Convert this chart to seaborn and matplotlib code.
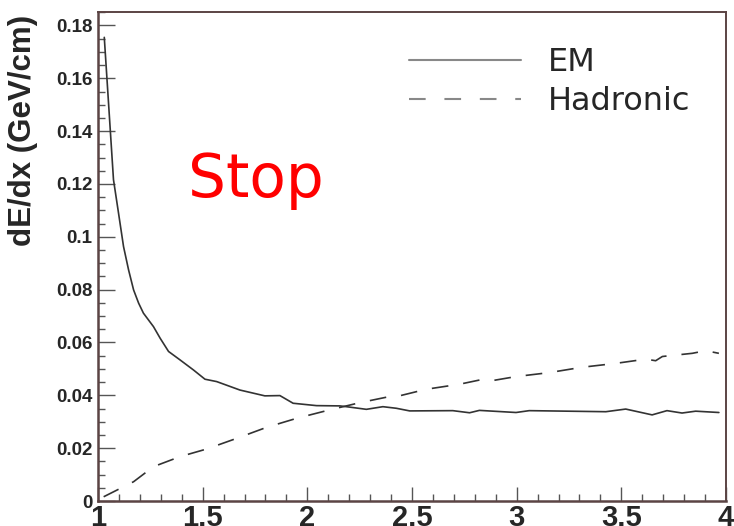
import matplotlib
matplotlib.use("Agg")
import matplotlib.pyplot as plt
import seaborn as sns
import numpy as np
from matplotlib.ticker import FixedLocator, MultipleLocator

sns.set_style("white")
plt.rcParams['font.family'] = ['DejaVu Sans']

# ---- data ----
em_x = [1.03, 1.074, 1.098, 1.122, 1.146, 1.170, 1.194, 1.217, 1.265, 1.297, 1.337,
        1.392, 1.456, 1.511, 1.567, 1.678, 1.797, 1.869, 1.932, 2.044, 2.155, 2.187,
        2.282, 2.361, 2.425, 2.489, 2.695, 2.775, 2.822, 2.997, 3.06, 3.426, 3.521,
        3.647, 3.718, 3.79, 3.855, 3.966]
em_y = [0.1755, 0.1216, 0.109, 0.0963, 0.0875, 0.0799, 0.0749, 0.0711, 0.066, 0.0616, 0.0566,
        0.0534, 0.0496, 0.0461, 0.0452, 0.042, 0.0398, 0.0399, 0.037, 0.0361, 0.036, 0.0357,
        0.0347, 0.0357, 0.0351, 0.0341, 0.0342, 0.0334, 0.0343, 0.0335, 0.0342, 0.0338, 0.0348,
        0.0326, 0.0342, 0.0333, 0.034, 0.0335]

had_x = [1.027, 1.17, 1.265, 1.392, 1.52, 1.662, 1.806, 1.949, 2.107, 2.25, 2.409, 2.44,
         2.568, 2.727, 2.823, 2.886, 2.997, 3.156, 3.31, 3.474, 3.617, 3.664, 3.696,
         3.839, 3.903, 3.966]
had_y = [0.0016, 0.0073, 0.013, 0.0168, 0.0197, 0.0237, 0.0279, 0.0313, 0.0345, 0.0372, 0.0398, 0.0398,
         0.0423, 0.0442, 0.0458, 0.0456, 0.0471, 0.0486, 0.0506, 0.0521, 0.0537, 0.0531, 0.0547,
         0.0559, 0.0569, 0.0559]

series_labels = ["EM", "Hadronic"]
y_ticks = [0, 0.02, 0.04, 0.06, 0.08, 0.1, 0.12, 0.14, 0.16, 0.18]
y_tick_labels = ["0", "0.02", "0.04", "0.06", "0.08", "0.1", "0.12", "0.14", "0.16", "0.18"]
x_ticks = [1, 1.5, 2, 2.5, 3, 3.5, 4]
x_tick_labels = ["1", "1.5", "2", "2.5", "3", "3.5", "4"]

W, H = 734, 526
fig = plt.figure(figsize=(W / 100, H / 100), dpi=100)
ax = fig.add_axes([98 / W, 25 / H, 628 / W, 489 / H])

line_col = "#333333"
sns.lineplot(x=em_x, y=em_y, ax=ax, color=line_col, lw=1.2, sort=False,
             estimator=None, label=series_labels[0])
sns.lineplot(x=had_x, y=had_y, ax=ax, color=line_col, lw=1.2, sort=False,
             estimator=None, label=series_labels[1])
ax.lines[1].set_linestyle((0, (10, 9)))

ax.set_xlim(1, 4)
ax.set_ylim(0, 0.1851)

# ticks
ax.xaxis.set_major_locator(FixedLocator(x_ticks))
ax.set_xticklabels(x_tick_labels)
ax.xaxis.set_minor_locator(MultipleLocator(0.1))
ax.yaxis.set_major_locator(FixedLocator(y_ticks))
ax.set_yticklabels(y_tick_labels)
ax.yaxis.set_minor_locator(MultipleLocator(0.005))

ax.tick_params(axis='y', which='major', direction='in', length=12, width=1.0,
               color='#555555', pad=4, labelsize=13.5, left=True, right=False)
ax.tick_params(axis='y', which='minor', direction='in', length=5, width=1.0,
               color='#555555', left=True, right=False)
ax.tick_params(axis='x', which='major', direction='in', length=10, width=1.0,
               color='#555555', pad=2, labelsize=21, bottom=True, top=False)
ax.tick_params(axis='x', which='minor', direction='in', length=5, width=1.0,
               color='#555555', bottom=True, top=False)
for t in ax.get_yticklabels():
    t.set_fontfamily(['Liberation Sans', 'DejaVu Sans'])
    t.set_fontweight('bold')
for t in ax.get_xticklabels():
    t.set_fontfamily(['Liberation Sans Narrow', 'Liberation Sans', 'DejaVu Sans'])
    t.set_fontweight('bold')

for s in ax.spines.values():
    s.set_color('#5b4444')
    s.set_linewidth(1.4)
ax.spines['left'].set_linewidth(1.8)
ax.spines['bottom'].set_linewidth(1.8)

fig.text(23.5 / W, 1 - 130 / H, "dE/dx (GeV/cm)", rotation=90, ha='center', va='center',
         fontsize=22.5, fontweight='bold', family=['Liberation Sans', 'DejaVu Sans'])

ax.text((188 - 98) / 628, (501 - 197) / 489, "Stop", color='red', fontsize=43,
        transform=ax.transAxes, ha='left', va='baseline')

leg = ax.legend(loc='upper left', bbox_to_anchor=(409 / W, 1 - 47 / H),
                bbox_transform=fig.transFigure, frameon=False, fontsize=23,
                handlelength=3.5, handletextpad=0.85, labelspacing=0.25,
                borderpad=0, borderaxespad=0)
for i, h in enumerate(leg.get_lines()):
    h.set_color('#888888')
    h.set_linewidth(1.5)
    if i == 1:
        h.set_linestyle((0, (8, 9)))

fig.savefig("out.png", dpi=100)
